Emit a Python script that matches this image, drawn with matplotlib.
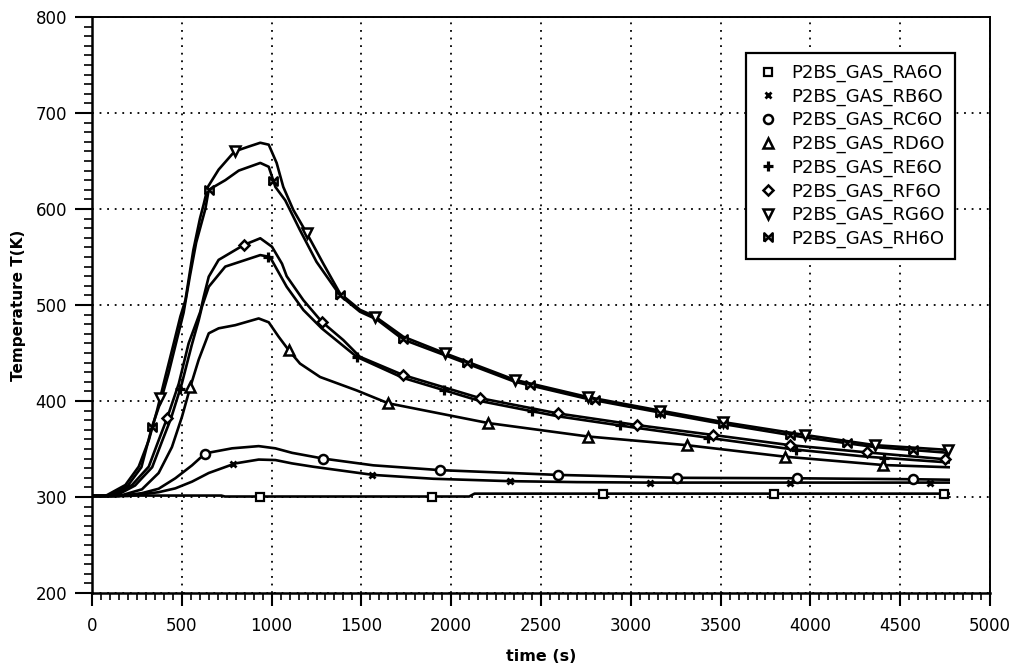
import numpy as np
import matplotlib
matplotlib.use("Agg")
import matplotlib.pyplot as plt
from matplotlib.ticker import MultipleLocator

# ---- data ----
labels = ["P2BS_GAS_RA6O", "P2BS_GAS_RB6O", "P2BS_GAS_RC6O", "P2BS_GAS_RD6O",
          "P2BS_GAS_RE6O", "P2BS_GAS_RF6O", "P2BS_GAS_RG6O", "P2BS_GAS_RH6O"]

t_RA = [0, 720, 740, 2100, 2130, 4770]
T_RA = [301.5, 301.5, 300.5, 300.5, 303.5, 303.5]

t_RB = [0, 200, 371, 464, 557, 650, 798, 928, 1021, 1114, 1233, 1566, 1900, 2327, 2700, 3107, 3886, 4770]
T_RB = [301, 301, 305, 309, 316, 325, 335, 339, 338.5, 335, 331.5, 323, 319, 316.5, 315.5, 315, 315, 315]

t_RC = [0, 150, 278, 371, 464, 557, 631, 780, 928, 1021, 1114, 1288, 1566, 1938, 2596, 3256, 3923, 4573, 4770]
T_RC = [301, 301, 304, 308.6, 319.5, 333, 345.5, 350.7, 353, 350.7, 346, 340, 333, 328, 323, 320, 319.5, 318.5, 318]

t_RD = [0, 150, 278, 371, 445, 501, 548, 594, 650, 705, 798, 928, 984, 1039, 1095, 1158, 1270, 1474, 1650,
        2207, 2763, 3311, 3859, 4406, 4770]
T_RD = [301, 301, 308, 325, 352, 383.6, 415, 443, 470.5, 475.7, 479, 486, 482, 467, 453, 439, 425, 411, 397.6,
        377, 363, 354, 342, 333.3, 331]

t_RE = [0, 130, 240, 335, 390, 440, 500, 555, 594, 612, 650, 742, 937, 991, 1084, 1177, 1279, 1474, 1733,
        2160, 2596, 3032, 3459, 3886, 4313, 4770]
T_RE = [301, 301, 312, 331, 358, 382, 418, 458, 484, 498, 519, 540, 552, 550, 519, 494.8, 475.7, 446, 424,
        400, 384, 372, 361, 350, 342, 336]

t_RF = [0, 110, 223, 316, 371, 418, 483, 538, 603, 622, 650, 705, 845, 937, 1002, 1058, 1084, 1177, 1279,
        1399, 1492, 1733, 2160, 2596, 3032, 3459, 3886, 4313, 4770]
T_RF = [301, 301, 312.5, 331.6, 359, 382, 418, 460, 493, 508.6, 529.5, 547, 562.5, 569.5, 560.7, 543, 530, 505,
        482.6, 463.5, 446, 427, 403, 387, 375, 364.6, 354, 346.5, 339]

t_RG = [0, 74, 186, 260, 316, 362, 408, 455, 492, 520, 564, 601, 622, 645, 705, 794, 872, 937, 984, 1028,
        1065, 1121, 1195, 1288, 1381, 1492, 1576, 1733, 1975, 2355, 2763, 3163, 3515, 3970, 4360, 4770]
T_RG = [301, 301, 312.5, 331.6, 359, 390, 425, 460, 488, 505, 557, 590, 605, 623, 641, 660, 665, 669, 667, 648,
        623, 599, 575, 543, 512, 495, 488, 467, 449, 422, 404, 390, 378, 364.6, 354, 349]

t_RH = [0, 90, 200, 275, 334, 380, 425, 470, 510, 545, 580, 631, 650, 742, 817, 937, 984, 1021, 1076, 1158,
        1250, 1381, 1492, 1585, 1733, 1975, 2355, 2763, 3163, 3515, 3970, 4360, 4770]
T_RH = [301, 301, 312, 331, 373, 398, 428, 462, 492, 530, 565, 600, 620, 630, 640, 648, 644, 623, 609, 578,
        545, 510, 493, 485, 464, 447, 420, 402, 388, 376, 362, 352, 346]

# times at which the symbols are drawn on each curve
mk_RA = [935, 1893, 2845, 3797, 4744]
mk_RB = [787, 1560, 2327, 3107, 3886, 4666]
mk_RC = [629, 1288, 1938, 2596, 3256, 3923, 4573]
mk_RD = [548, 1095, 1650, 2207, 2763, 3311, 3859, 4406]
mk_RE = [490, 980, 1474, 1960, 2450, 2940, 3430, 3920, 4410]
mk_RF = [418, 845, 1279, 1733, 2160, 2596, 3032, 3459, 3886, 4313, 4749]
mk_RG = [379, 794, 1195, 1576, 1966, 2355, 2763, 3163, 3515, 3970, 4360, 4768]
mk_RH = [334, 650, 1010, 1381, 1730, 2086, 2439, 2800, 3163, 3515, 3886, 4202, 4573]

series = [(t_RA, T_RA, mk_RA), (t_RB, T_RB, mk_RB), (t_RC, T_RC, mk_RC), (t_RD, T_RD, mk_RD),
          (t_RE, T_RE, mk_RE), (t_RF, T_RF, mk_RF), (t_RG, T_RG, mk_RG), (t_RH, T_RH, mk_RH)]

bowtie = [(-1, -1), (-1, 1), (1, -1), (1, 1), (-1, -1)]
marker_styles = [
    dict(marker='s', ms=5.2, mfc='white', mec='black', mew=1.6),
    dict(marker='x', ms=4.5, mfc='black', mec='black', mew=2.0),
    dict(marker='o', ms=6.5, mfc='white', mec='black', mew=1.8),
    dict(marker='^', ms=7, mfc='white', mec='black', mew=1.8),
    dict(marker='+', ms=6.5, mfc='black', mec='black', mew=2.3),
    dict(marker='D', ms=5.5, mfc='white', mec='black', mew=1.8),
    dict(marker='v', ms=7.2, mfc='white', mec='black', mew=1.8),
    dict(marker=bowtie, ms=6, mfc='white', mec='black', mew=1.8),
]

plt.rcParams['font.family'] = ['DejaVu Sans']

fig = plt.figure(figsize=(10.19, 6.71), dpi=100)
ax = fig.add_axes([92 / 1019, 1 - 593 / 671, 898 / 1019, 576 / 671])

for (t, T, mk), lab, st in zip(series, labels, marker_styles):
    ax.plot(t, T, color='black', lw=1.9, solid_joinstyle='round', zorder=3)
    ax.plot(mk, np.interp(mk, t, T), ls='none', label=lab, zorder=4, **st)

ax.set_xlim(0, 5000)
ax.set_ylim(200, 800)
ax.xaxis.set_major_locator(MultipleLocator(500))
ax.xaxis.set_minor_locator(MultipleLocator(50))
ax.yaxis.set_major_locator(MultipleLocator(100))
ax.yaxis.set_minor_locator(MultipleLocator(10))

ax.tick_params(axis='x', which='major', direction='out', length=9.5, width=1.5,
               labelsize=12, pad=8, top=False)
ax.tick_params(axis='x', which='minor', direction='out', length=5, width=1.2, top=False)
ax.tick_params(axis='y', which='major', direction='out', length=12, width=1.5,
               labelsize=12, pad=6, right=False)
ax.tick_params(axis='y', which='minor', direction='out', length=6, width=1.2, right=False)

for s in ['left', 'bottom']:
    ax.spines[s].set_linewidth(1.8)
for s in ['top', 'right']:
    ax.spines[s].set_linewidth(1.4)

ax.grid(True, which='major', color='black', lw=1.3, ls=(0, (1, 3.2)), zorder=1)
ax.set_axisbelow(True)

ax.set_xlabel("time (s)", fontsize=11.5, fontweight='bold', labelpad=10)
ax.set_ylabel("Temperature T(K)", fontsize=11, fontweight='bold', labelpad=7)

leg = ax.legend(loc='upper right', bbox_to_anchor=(0.961, 0.9375), fontsize=13,
                frameon=True, fancybox=False, edgecolor='black', framealpha=1,
                borderpad=0.6, labelspacing=0.3, handlelength=1.3, handletextpad=0.6,
                borderaxespad=0)
leg.get_frame().set_linewidth(1.6)

fig.savefig("out.png", dpi=100)
